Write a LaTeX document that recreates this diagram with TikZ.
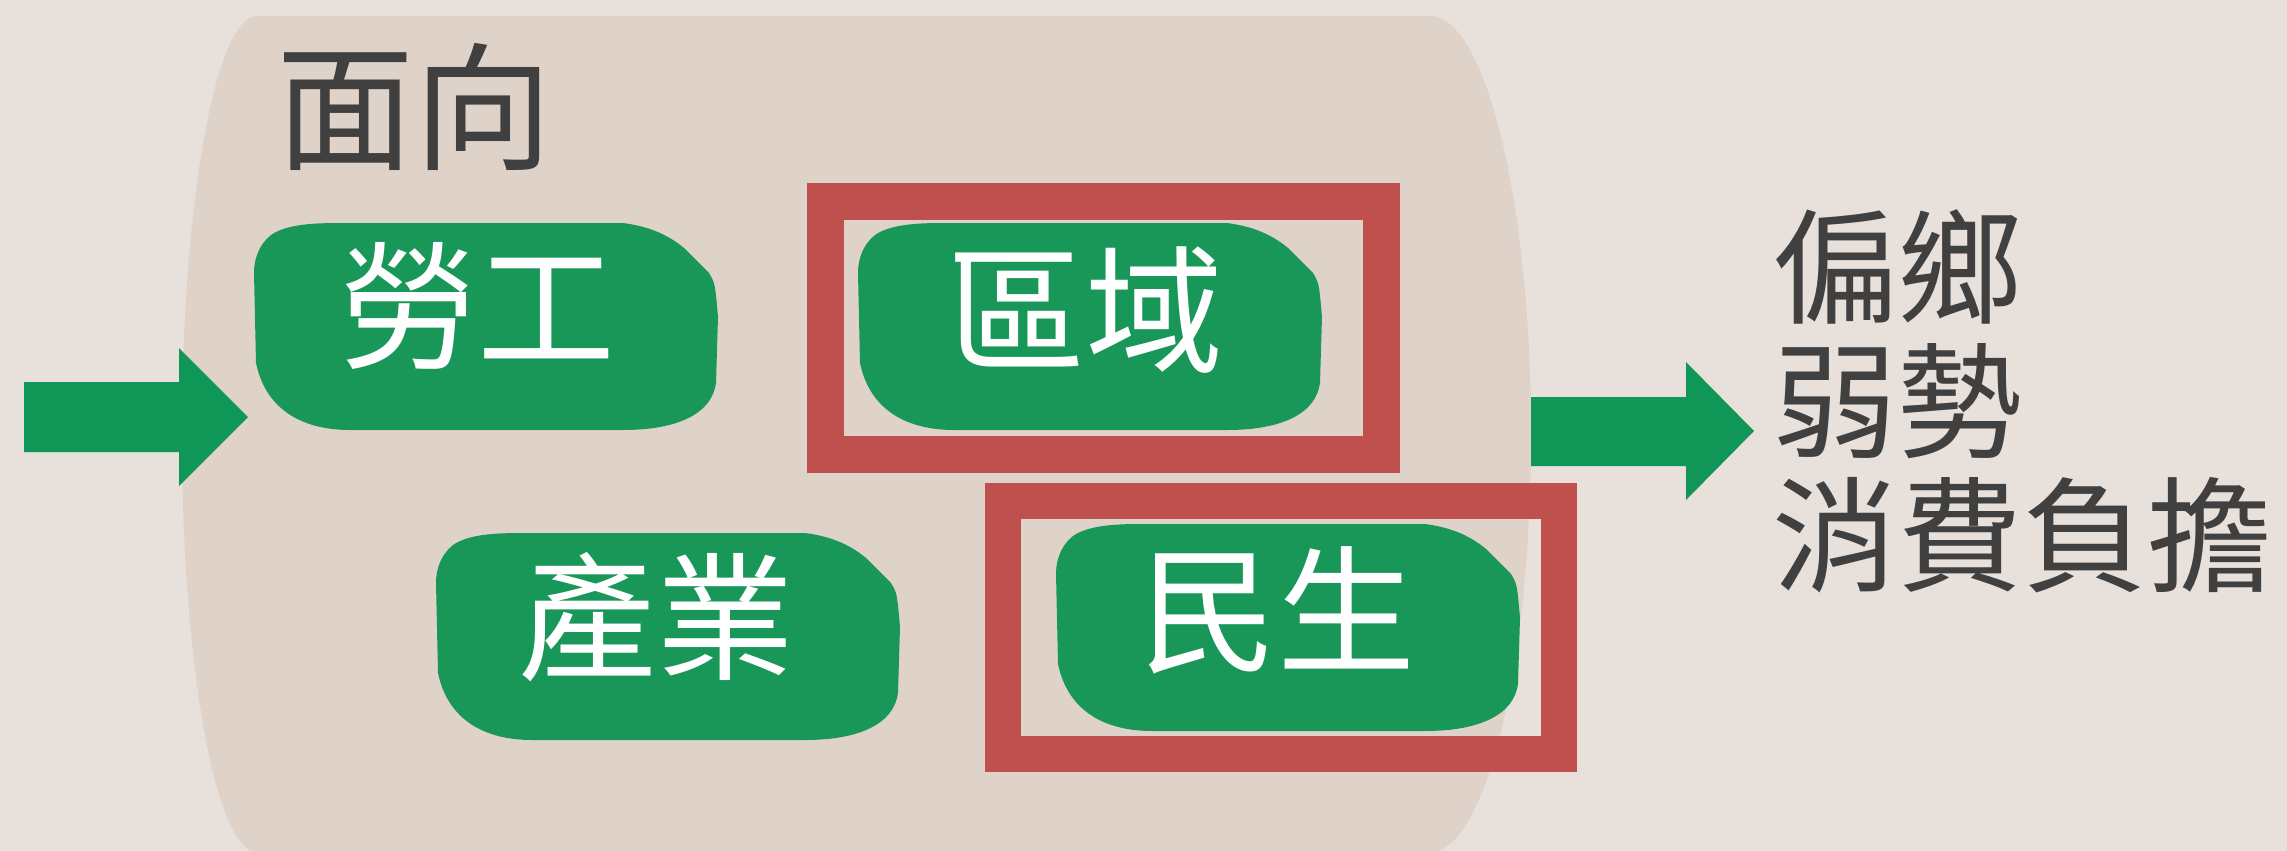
\documentclass[tikz,border=0pt]{standalone}
\usepackage{fontspec}
\newfontfamily\cjk{Noto Sans CJK TC}
\definecolor{bgc}{HTML}{E8E0DA}
\definecolor{shapec}{HTML}{DFD3C9}
\definecolor{blobc}{HTML}{199759}
\definecolor{arrowc}{HTML}{109656}
\definecolor{framec}{HTML}{C0504D}
\definecolor{textc}{HTML}{404040}
\tikzset{
  greenblob/.pic={\fill[blobc] (86,0) -- (369,0) .. controls (392,3) and (412,10) .. (430,25) -- (455,50) .. controls (461,60) .. (464,94) -- (462,160) .. controls (458,190) and (425,207) .. (369,207) -- (96,207) .. controls (50,207) and (12,188) .. (2,140) -- (0,50) .. controls (0,30) and (10,16) .. (20,10) .. controls (35,2) and (55,0) .. (86,0) -- cycle;},
  boxtext/.style={inner sep=0pt, text=white, font=\cjk\fontsize{138}{138}\selectfont},
  headtext/.style={inner sep=0pt, text=textc, font=\cjk\fontsize{138}{138}\selectfont},
  restext/.style={inner sep=0pt, anchor=west, text=textc, font=\cjk\fontsize{125}{125}\selectfont},
  redframe/.style={draw=framec},
  blockarrow/.style={fill=arrowc}
}
\begin{document}
\begin{tikzpicture}[x=1pt,y=-1pt]
\fill[bgc] (0,0) rectangle (2287,851);
\useasboundingbox (0,0) rectangle (2287,851);
% big rounded background shape
\fill[shapec] (257,16) -- (1430,16) arc[start angle=90, end angle=-90, x radius=101pt, y radius=418pt] -- (257,852) arc[start angle=270, end angle=90, x radius=75pt, y radius=418pt] -- cycle;
% block arrows
\fill[blockarrow] (24,382) -- (179,382) -- (179,348) -- (248,417) -- (179,486) -- (179,452) -- (24,452) -- cycle;
\fill[blockarrow] (1531,397) -- (1686,397) -- (1686,362) -- (1754,431) -- (1686,500) -- (1686,466) -- (1531,466) -- cycle;
% green blobs
\pic at (254,223) {greenblob};
\pic at (858,223) {greenblob};
\pic at (436,533) {greenblob};
\pic at (1056,524) {greenblob};
% red frames
\draw[redframe, line width=37pt] (825.5,201.5) rectangle (1381.5,454.5);
\draw[redframe, line width=36pt] (1003,501) rectangle (1559,754);
% texts
\node[headtext] (head) at (414,107) {面向};
\node[boxtext] (labor) at (477,306) {勞工};
\node[boxtext] (region) at (1085,310) {區域};
\node[boxtext] (industry) at (656,617) {產業};
\node[boxtext] (living) at (1277,610) {民生};
\node[restext] (r1) at (1772,267) {偏鄉};
\node[restext] (r2) at (1772,401) {弱勢};
\node[restext] (r3) at (1772,535) {消費負擔};
\end{tikzpicture}
\end{document}
